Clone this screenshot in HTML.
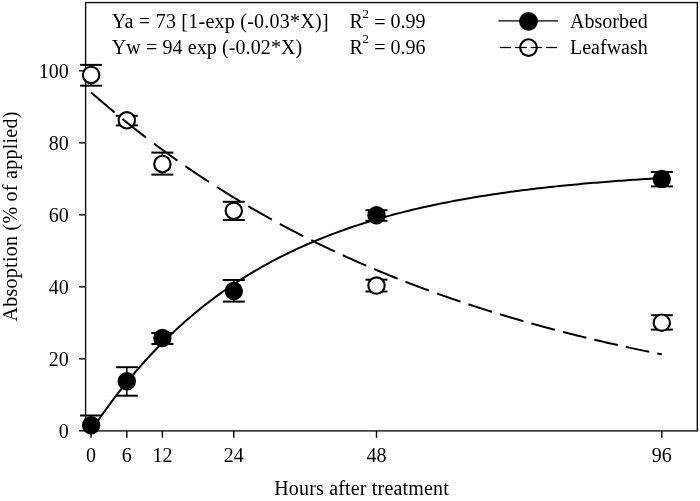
<!DOCTYPE html>
<html><head><meta charset="utf-8"><style>
html,body{margin:0;padding:0;background:#fff;}
svg{display:block;filter:grayscale(100%);}
text{font-family:"Liberation Serif",serif;font-size:20px;fill:#000;}
</style></head><body>
<svg width="700" height="501" viewBox="0 0 700 501">
<rect x="85.6" y="2.6" width="611.7" height="428.3" fill="none" stroke="#111" stroke-width="1.4"/>
<line x1="79" y1="430.8" x2="85.6" y2="430.8" stroke="#000" stroke-width="1.4"/>
<text x="68.8" y="437.8" text-anchor="end">0</text>
<line x1="79" y1="358.8" x2="85.6" y2="358.8" stroke="#000" stroke-width="1.4"/>
<text x="68.8" y="365.8" text-anchor="end">20</text>
<line x1="79" y1="286.8" x2="85.6" y2="286.8" stroke="#000" stroke-width="1.4"/>
<text x="68.8" y="293.8" text-anchor="end">40</text>
<line x1="79" y1="214.8" x2="85.6" y2="214.8" stroke="#000" stroke-width="1.4"/>
<text x="68.8" y="221.8" text-anchor="end">60</text>
<line x1="79" y1="142.8" x2="85.6" y2="142.8" stroke="#000" stroke-width="1.4"/>
<text x="68.8" y="149.8" text-anchor="end">80</text>
<line x1="79" y1="70.8" x2="85.6" y2="70.8" stroke="#000" stroke-width="1.4"/>
<text x="68.8" y="77.8" text-anchor="end">100</text>
<line x1="91.1" y1="430.9" x2="91.1" y2="437.8" stroke="#000" stroke-width="1.4"/>
<text x="91.1" y="462.4" text-anchor="middle">0</text>
<line x1="126.8" y1="430.9" x2="126.8" y2="437.8" stroke="#000" stroke-width="1.4"/>
<text x="126.8" y="462.4" text-anchor="middle">6</text>
<line x1="162.4" y1="430.9" x2="162.4" y2="437.8" stroke="#000" stroke-width="1.4"/>
<text x="162.4" y="462.4" text-anchor="middle">12</text>
<line x1="233.8" y1="430.9" x2="233.8" y2="437.8" stroke="#000" stroke-width="1.4"/>
<text x="233.8" y="462.4" text-anchor="middle">24</text>
<line x1="376.5" y1="430.9" x2="376.5" y2="437.8" stroke="#000" stroke-width="1.4"/>
<text x="376.5" y="462.4" text-anchor="middle">48</text>
<line x1="661.8" y1="430.9" x2="661.8" y2="437.8" stroke="#000" stroke-width="1.4"/>
<text x="661.8" y="462.4" text-anchor="middle">96</text>
<line x1="91.1" y1="415.5" x2="91.1" y2="425.3" stroke="#000" stroke-width="1.6"/>
<line x1="80.1" y1="415.5" x2="102.1" y2="415.5" stroke="#000" stroke-width="2"/>
<line x1="126.8" y1="367.2" x2="126.8" y2="395.7" stroke="#000" stroke-width="1.6"/>
<line x1="115.8" y1="367.2" x2="137.8" y2="367.2" stroke="#000" stroke-width="2"/>
<line x1="115.8" y1="395.7" x2="137.8" y2="395.7" stroke="#000" stroke-width="2"/>
<line x1="162.4" y1="333" x2="162.4" y2="344" stroke="#000" stroke-width="1.6"/>
<line x1="151.4" y1="333" x2="173.4" y2="333" stroke="#000" stroke-width="2"/>
<line x1="151.4" y1="344" x2="173.4" y2="344" stroke="#000" stroke-width="2"/>
<line x1="233.8" y1="280" x2="233.8" y2="301.6" stroke="#000" stroke-width="1.6"/>
<line x1="222.8" y1="280" x2="244.8" y2="280" stroke="#000" stroke-width="2"/>
<line x1="222.8" y1="301.6" x2="244.8" y2="301.6" stroke="#000" stroke-width="2"/>
<line x1="376.5" y1="210.2" x2="376.5" y2="220.8" stroke="#000" stroke-width="1.6"/>
<line x1="365.5" y1="210.2" x2="387.5" y2="210.2" stroke="#000" stroke-width="2"/>
<line x1="365.5" y1="220.8" x2="387.5" y2="220.8" stroke="#000" stroke-width="2"/>
<line x1="661.8" y1="172" x2="661.8" y2="186.4" stroke="#000" stroke-width="1.6"/>
<line x1="650.8" y1="172" x2="672.8" y2="172" stroke="#000" stroke-width="2"/>
<line x1="650.8" y1="186.4" x2="672.8" y2="186.4" stroke="#000" stroke-width="2"/>
<line x1="91.1" y1="64.9" x2="91.1" y2="85.7" stroke="#000" stroke-width="1.6"/>
<line x1="80.1" y1="64.9" x2="102.1" y2="64.9" stroke="#000" stroke-width="2"/>
<line x1="80.1" y1="85.7" x2="102.1" y2="85.7" stroke="#000" stroke-width="2"/>
<line x1="126.8" y1="115.8" x2="126.8" y2="125.4" stroke="#000" stroke-width="1.6"/>
<line x1="115.8" y1="115.8" x2="137.8" y2="115.8" stroke="#000" stroke-width="2"/>
<line x1="115.8" y1="125.4" x2="137.8" y2="125.4" stroke="#000" stroke-width="2"/>
<line x1="162.4" y1="152.6" x2="162.4" y2="174.6" stroke="#000" stroke-width="1.6"/>
<line x1="151.4" y1="152.6" x2="173.4" y2="152.6" stroke="#000" stroke-width="2"/>
<line x1="151.4" y1="174.6" x2="173.4" y2="174.6" stroke="#000" stroke-width="2"/>
<line x1="233.8" y1="201.8" x2="233.8" y2="220" stroke="#000" stroke-width="1.6"/>
<line x1="222.8" y1="201.8" x2="244.8" y2="201.8" stroke="#000" stroke-width="2"/>
<line x1="222.8" y1="220" x2="244.8" y2="220" stroke="#000" stroke-width="2"/>
<line x1="376.5" y1="279.7" x2="376.5" y2="291.5" stroke="#000" stroke-width="1.6"/>
<line x1="365.5" y1="279.7" x2="387.5" y2="279.7" stroke="#000" stroke-width="2"/>
<line x1="365.5" y1="291.5" x2="387.5" y2="291.5" stroke="#000" stroke-width="2"/>
<line x1="661.8" y1="315.2" x2="661.8" y2="329.6" stroke="#000" stroke-width="1.6"/>
<line x1="650.8" y1="315.2" x2="672.8" y2="315.2" stroke="#000" stroke-width="2"/>
<line x1="650.8" y1="329.6" x2="672.8" y2="329.6" stroke="#000" stroke-width="2"/>
<circle cx="91.1" cy="425.3" r="9.2" fill="#000"/>
<circle cx="126.8" cy="381.3" r="9.2" fill="#000"/>
<circle cx="162.4" cy="338" r="9.2" fill="#000"/>
<circle cx="233.8" cy="291" r="9.2" fill="#000"/>
<circle cx="376.5" cy="215.3" r="9.2" fill="#000"/>
<circle cx="661.8" cy="178.9" r="9.2" fill="#000"/>
<circle cx="91.1" cy="74.9" r="8.2" fill="#fff" stroke="#000" stroke-width="2.1"/>
<circle cx="126.8" cy="120.3" r="8.2" fill="#fff" stroke="#000" stroke-width="2.1"/>
<circle cx="162.4" cy="164" r="8.2" fill="#fff" stroke="#000" stroke-width="2.1"/>
<circle cx="233.8" cy="210.8" r="8.2" fill="#fff" stroke="#000" stroke-width="2.1"/>
<circle cx="376.5" cy="285.6" r="8.2" fill="#fff" stroke="#000" stroke-width="2.1"/>
<circle cx="661.8" cy="322.7" r="8.2" fill="#fff" stroke="#000" stroke-width="2.1"/>
<path d="M91.10,430.80 L93.95,426.55 L96.81,422.36 L99.66,418.24 L102.51,414.19 L105.37,410.21 L108.22,406.29 L111.08,402.43 L113.93,398.63 L116.78,394.90 L119.64,391.23 L122.49,387.61 L125.34,384.06 L128.20,380.56 L131.05,377.12 L133.90,373.74 L136.76,370.41 L139.61,367.13 L142.46,363.91 L145.32,360.73 L148.17,357.61 L151.03,354.55 L153.88,351.53 L156.73,348.55 L159.59,345.63 L162.44,342.76 L165.29,339.93 L168.15,337.14 L171.00,334.41 L173.85,331.71 L176.71,329.06 L179.56,326.46 L182.42,323.89 L185.27,321.37 L188.12,318.88 L190.98,316.44 L193.83,314.04 L196.68,311.67 L199.54,309.35 L202.39,307.06 L205.24,304.81 L208.10,302.60 L210.95,300.42 L213.80,298.27 L216.66,296.16 L219.51,294.09 L222.37,292.05 L225.22,290.04 L228.07,288.07 L230.93,286.12 L233.78,284.21 L236.63,282.33 L239.49,280.48 L242.34,278.66 L245.19,276.87 L248.05,275.10 L250.90,273.37 L253.76,271.66 L256.61,269.99 L259.46,268.33 L262.32,266.71 L265.17,265.11 L268.02,263.54 L270.88,261.99 L273.73,260.47 L276.58,258.98 L279.44,257.50 L282.29,256.05 L285.14,254.63 L288.00,253.23 L290.85,251.85 L293.71,250.49 L296.56,249.15 L299.41,247.84 L302.27,246.55 L305.12,245.28 L307.97,244.03 L310.83,242.80 L313.68,241.58 L316.53,240.39 L319.39,239.22 L322.24,238.07 L325.10,236.93 L327.95,235.82 L330.80,234.72 L333.66,233.64 L336.51,232.58 L339.36,231.53 L342.22,230.50 L345.07,229.49 L347.92,228.50 L350.78,227.52 L353.63,226.55 L356.48,225.61 L359.34,224.67 L362.19,223.76 L365.05,222.85 L367.90,221.97 L370.75,221.09 L373.61,220.23 L376.46,219.39 L379.31,218.56 L382.17,217.74 L385.02,216.93 L387.87,216.14 L390.73,215.36 L393.58,214.59 L396.44,213.84 L399.29,213.10 L402.14,212.37 L405.00,211.65 L407.85,210.94 L410.70,210.25 L413.56,209.56 L416.41,208.89 L419.26,208.23 L422.12,207.58 L424.97,206.94 L427.82,206.31 L430.68,205.69 L433.53,205.08 L436.39,204.48 L439.24,203.89 L442.09,203.31 L444.95,202.73 L447.80,202.17 L450.65,201.62 L453.51,201.07 L456.36,200.54 L459.21,200.01 L462.07,199.49 L464.92,198.98 L467.78,198.48 L470.63,197.99 L473.48,197.50 L476.34,197.03 L479.19,196.56 L482.04,196.09 L484.90,195.64 L487.75,195.19 L490.60,194.75 L493.46,194.32 L496.31,193.89 L499.16,193.47 L502.02,193.06 L504.87,192.66 L507.73,192.26 L510.58,191.86 L513.43,191.48 L516.29,191.10 L519.14,190.72 L521.99,190.36 L524.85,189.99 L527.70,189.64 L530.55,189.29 L533.41,188.94 L536.26,188.60 L539.12,188.27 L541.97,187.94 L544.82,187.62 L547.68,187.30 L550.53,186.99 L553.38,186.68 L556.24,186.38 L559.09,186.08 L561.94,185.79 L564.80,185.50 L567.65,185.22 L570.50,184.94 L573.36,184.67 L576.21,184.40 L579.07,184.13 L581.92,183.87 L584.77,183.61 L587.63,183.36 L590.48,183.11 L593.33,182.87 L596.19,182.63 L599.04,182.39 L601.89,182.16 L604.75,181.93 L607.60,181.70 L610.46,181.48 L613.31,181.26 L616.16,181.05 L619.02,180.84 L621.87,180.63 L624.72,180.42 L627.58,180.22 L630.43,180.02 L633.28,179.83 L636.14,179.64 L638.99,179.45 L641.84,179.26 L644.70,179.08 L647.55,178.90 L650.41,178.73 L653.26,178.55 L656.11,178.38 L658.97,178.21 L661.82,178.05" fill="none" stroke="#000" stroke-width="2"/>
<path d="M91.10,92.40 L92.27,93.44 L93.45,94.47 L94.62,95.50 L95.80,96.52 L96.97,97.54 L98.15,98.56 L99.32,99.58 L100.50,100.59 L101.67,101.60 L102.85,102.61 L104.02,103.61 L105.20,104.61 L106.38,105.61 L107.55,106.61 L108.72,107.60 L109.90,108.59 L111.07,109.57 L112.25,110.56 L113.42,111.53 L114.60,112.51" fill="none" stroke="#000" stroke-width="2"/>
<path d="M122.55,119.04 L123.72,119.99 L124.90,120.95 L126.07,121.89 L127.25,122.84 L128.43,123.78 L129.60,124.72 L130.78,125.66 L131.95,126.59 L133.12,127.52 L134.30,128.45 L135.47,129.37 L136.65,130.29 L137.83,131.21 L139.00,132.13 L140.18,133.04 L141.35,133.95 L142.53,134.86 L143.70,135.77 L144.88,136.67 L146.05,137.57" fill="none" stroke="#000" stroke-width="2"/>
<path d="M154.00,143.58 L155.18,144.46 L156.35,145.34 L157.52,146.21 L158.70,147.08 L159.88,147.95 L161.05,148.82 L162.22,149.68 L163.40,150.54 L164.57,151.40 L165.75,152.25 L166.93,153.10 L168.10,153.95 L169.27,154.80 L170.45,155.64 L171.62,156.48 L172.80,157.32 L173.98,158.16 L175.15,158.99 L176.32,159.82 L177.50,160.65" fill="none" stroke="#000" stroke-width="2"/>
<path d="M185.45,166.20 L186.62,167.00 L187.80,167.81 L188.97,168.62 L190.15,169.42 L191.32,170.22 L192.50,171.01 L193.67,171.81 L194.85,172.60 L196.02,173.39 L197.20,174.18 L198.38,174.96 L199.55,175.75 L200.72,176.53 L201.90,177.30 L203.07,178.08 L204.25,178.85 L205.43,179.62 L206.60,180.39 L207.77,181.16 L208.95,181.92" fill="none" stroke="#000" stroke-width="2"/>
<path d="M216.90,187.03 L218.07,187.77 L219.25,188.52 L220.42,189.26 L221.60,190.00 L222.77,190.73 L223.95,191.47 L225.12,192.20 L226.30,192.93 L227.47,193.66 L228.65,194.38 L229.82,195.10 L231.00,195.83 L232.17,196.54 L233.35,197.26 L234.52,197.98 L235.70,198.69 L236.87,199.40 L238.05,200.11 L239.22,200.81 L240.40,201.51" fill="none" stroke="#000" stroke-width="2"/>
<path d="M248.35,206.22 L249.52,206.90 L250.70,207.59 L251.87,208.27 L253.05,208.95 L254.22,209.63 L255.40,210.31 L256.57,210.98 L257.75,211.66 L258.92,212.33 L260.10,212.99 L261.27,213.66 L262.45,214.32 L263.62,214.99 L264.80,215.65 L265.97,216.30 L267.15,216.96 L268.32,217.61 L269.50,218.27 L270.67,218.92 L271.85,219.56" fill="none" stroke="#000" stroke-width="2"/>
<path d="M279.80,223.90 L280.97,224.53 L282.15,225.16 L283.32,225.79 L284.50,226.42 L285.67,227.04 L286.85,227.67 L288.02,228.29 L289.20,228.91 L290.37,229.52 L291.55,230.14 L292.72,230.75 L293.90,231.37 L295.07,231.98 L296.25,232.58 L297.42,233.19 L298.60,233.80 L299.77,234.40 L300.95,235.00 L302.12,235.60 L303.30,236.19" fill="none" stroke="#000" stroke-width="2"/>
<path d="M311.25,240.19 L312.42,240.77 L313.60,241.35 L314.77,241.93 L315.95,242.51 L317.12,243.08 L318.30,243.66 L319.47,244.23 L320.65,244.80 L321.82,245.37 L323.00,245.94 L324.17,246.50 L325.35,247.07 L326.52,247.63 L327.70,248.19 L328.87,248.75 L330.05,249.30 L331.22,249.86 L332.40,250.41 L333.57,250.96 L334.75,251.52" fill="none" stroke="#000" stroke-width="2"/>
<path d="M342.70,255.19 L343.87,255.73 L345.05,256.27 L346.22,256.80 L347.40,257.33 L348.57,257.86 L349.75,258.39 L350.92,258.92 L352.10,259.44 L353.27,259.97 L354.45,260.49 L355.62,261.01 L356.80,261.53 L357.97,262.05 L359.15,262.57 L360.32,263.08 L361.50,263.59 L362.67,264.10 L363.85,264.61 L365.02,265.12 L366.20,265.63" fill="none" stroke="#000" stroke-width="2"/>
<path d="M374.15,269.02 L375.32,269.51 L376.50,270.01 L377.67,270.50 L378.85,270.99 L380.02,271.48 L381.20,271.96 L382.38,272.45 L383.55,272.93 L384.73,273.42 L385.90,273.90 L387.07,274.38 L388.25,274.86 L389.42,275.33 L390.60,275.81 L391.77,276.28 L392.95,276.76 L394.12,277.23 L395.30,277.70 L396.47,278.17 L397.65,278.63" fill="none" stroke="#000" stroke-width="2"/>
<path d="M405.60,281.75 L406.77,282.21 L407.95,282.66 L409.12,283.12 L410.30,283.57 L411.47,284.02 L412.65,284.47 L413.82,284.92 L415.00,285.36 L416.17,285.81 L417.35,286.25 L418.52,286.69 L419.70,287.13 L420.87,287.57 L422.05,288.01 L423.22,288.45 L424.40,288.88 L425.57,289.32 L426.75,289.75 L427.92,290.18 L429.10,290.61" fill="none" stroke="#000" stroke-width="2"/>
<path d="M437.05,293.49 L438.22,293.91 L439.40,294.33 L440.57,294.74 L441.75,295.16 L442.92,295.58 L444.10,295.99 L445.27,296.40 L446.45,296.81 L447.62,297.22 L448.80,297.63 L449.97,298.04 L451.15,298.44 L452.32,298.85 L453.50,299.25 L454.67,299.65 L455.85,300.06 L457.02,300.46 L458.20,300.85 L459.37,301.25 L460.55,301.65" fill="none" stroke="#000" stroke-width="2"/>
<path d="M468.50,304.30 L469.67,304.68 L470.85,305.07 L472.02,305.46 L473.20,305.84 L474.37,306.22 L475.55,306.60 L476.72,306.98 L477.90,307.36 L479.07,307.74 L480.25,308.11 L481.42,308.49 L482.60,308.86 L483.77,309.24 L484.95,309.61 L486.12,309.98 L487.30,310.35 L488.47,310.72 L489.65,311.08 L490.82,311.45 L492.00,311.82" fill="none" stroke="#000" stroke-width="2"/>
<path d="M499.95,314.26 L501.12,314.61 L502.30,314.97 L503.47,315.32 L504.65,315.68 L505.82,316.03 L507.00,316.38 L508.17,316.73 L509.35,317.08 L510.52,317.43 L511.70,317.77 L512.87,318.12 L514.05,318.46 L515.22,318.81 L516.40,319.15 L517.57,319.49 L518.75,319.83 L519.92,320.17 L521.10,320.51 L522.27,320.85 L523.45,321.18" fill="none" stroke="#000" stroke-width="2"/>
<path d="M531.40,323.43 L532.57,323.76 L533.75,324.09 L534.92,324.41 L536.10,324.74 L537.27,325.06 L538.45,325.39 L539.62,325.71 L540.80,326.03 L541.97,326.35 L543.15,326.67 L544.32,326.99 L545.50,327.31 L546.67,327.62 L547.85,327.94 L549.02,328.25 L550.20,328.57 L551.37,328.88 L552.55,329.19 L553.72,329.50 L554.90,329.81" fill="none" stroke="#000" stroke-width="2"/>
<path d="M562.85,331.88 L564.02,332.19 L565.20,332.49 L566.37,332.79 L567.55,333.09 L568.72,333.39 L569.90,333.69 L571.07,333.98 L572.25,334.28 L573.42,334.57 L574.60,334.87 L575.77,335.16 L576.95,335.45 L578.12,335.75 L579.30,336.04 L580.47,336.33 L581.65,336.62 L582.82,336.90 L584.00,337.19 L585.17,337.48 L586.35,337.76" fill="none" stroke="#000" stroke-width="2"/>
<path d="M594.30,339.67 L595.47,339.95 L596.65,340.23 L597.82,340.51 L599.00,340.78 L600.17,341.06 L601.35,341.33 L602.52,341.61 L603.70,341.88 L604.88,342.15 L606.05,342.42 L607.22,342.69 L608.40,342.96 L609.57,343.23 L610.75,343.50 L611.92,343.76 L613.10,344.03 L614.27,344.30 L615.45,344.56 L616.62,344.82 L617.80,345.09" fill="none" stroke="#000" stroke-width="2"/>
<path d="M625.75,346.85 L626.93,347.10 L628.10,347.36 L629.27,347.61 L630.45,347.87 L631.62,348.12 L632.80,348.37 L633.98,348.63 L635.15,348.88 L636.33,349.13 L637.50,349.38 L638.67,349.63 L639.85,349.88 L641.02,350.12 L642.20,350.37 L643.38,350.62 L644.55,350.86 L645.73,351.11 L646.90,351.35 L648.08,351.59 L649.25,351.84" fill="none" stroke="#000" stroke-width="2"/>
<path d="M657.20,353.46 L657.43,353.50 L657.66,353.55 L657.89,353.59 L658.12,353.64 L658.36,353.69 L658.59,353.73 L658.82,353.78 L659.05,353.83 L659.28,353.87 L659.51,353.92 L659.74,353.97 L659.97,354.01 L660.20,354.06 L660.43,354.10 L660.67,354.15 L660.90,354.20 L661.13,354.24 L661.36,354.29 L661.59,354.34 L661.82,354.38" fill="none" stroke="#000" stroke-width="2"/>
<line x1="498.5" y1="20.8" x2="558" y2="20.8" stroke="#000" stroke-width="1.2"/>
<circle cx="528.5" cy="21.3" r="9.4" fill="#000"/>
<line x1="499.7" y1="47.5" x2="511.1" y2="47.5" stroke="#000" stroke-width="1.25"/>
<line x1="515.1" y1="47.5" x2="527.1" y2="47.5" stroke="#000" stroke-width="1.25"/>
<line x1="530.6" y1="47.5" x2="542" y2="47.5" stroke="#000" stroke-width="1.25"/>
<line x1="546" y1="47.5" x2="556.9" y2="47.5" stroke="#000" stroke-width="1.25"/>
<circle cx="528.5" cy="47.6" r="8.3" fill="none" stroke="#000" stroke-width="2.1"/>
<text x="570" y="28">Absorbed</text>
<text x="570" y="53.7">Leafwash</text>
<text x="111.8" y="28.2" textLength="216.8" lengthAdjust="spacing">Ya = 73 [1-exp (-0.03*X)]</text>
<text x="111.8" y="54" textLength="190.4" lengthAdjust="spacing">Yw = 94 exp (-0.02*X)</text>
<text x="349.5" y="28">R</text>
<text x="362.3" y="17.6" style="font-size:13.5px">2</text>
<text x="374.2" y="28.8">=</text>
<text x="390.6" y="28">0.99</text>
<text x="349.5" y="53.6">R</text>
<text x="362.3" y="43.2" style="font-size:13.5px">2</text>
<text x="374.2" y="54.4">=</text>
<text x="390.6" y="53.6">0.96</text>
<text x="361.5" y="494.6" text-anchor="middle" textLength="174.5" lengthAdjust="spacing">Hours after treatment</text>
<text transform="translate(17,216.5) rotate(-90)" text-anchor="middle" textLength="209.9" lengthAdjust="spacing">Absoption (% of applied)</text>
</svg>
</body></html>
